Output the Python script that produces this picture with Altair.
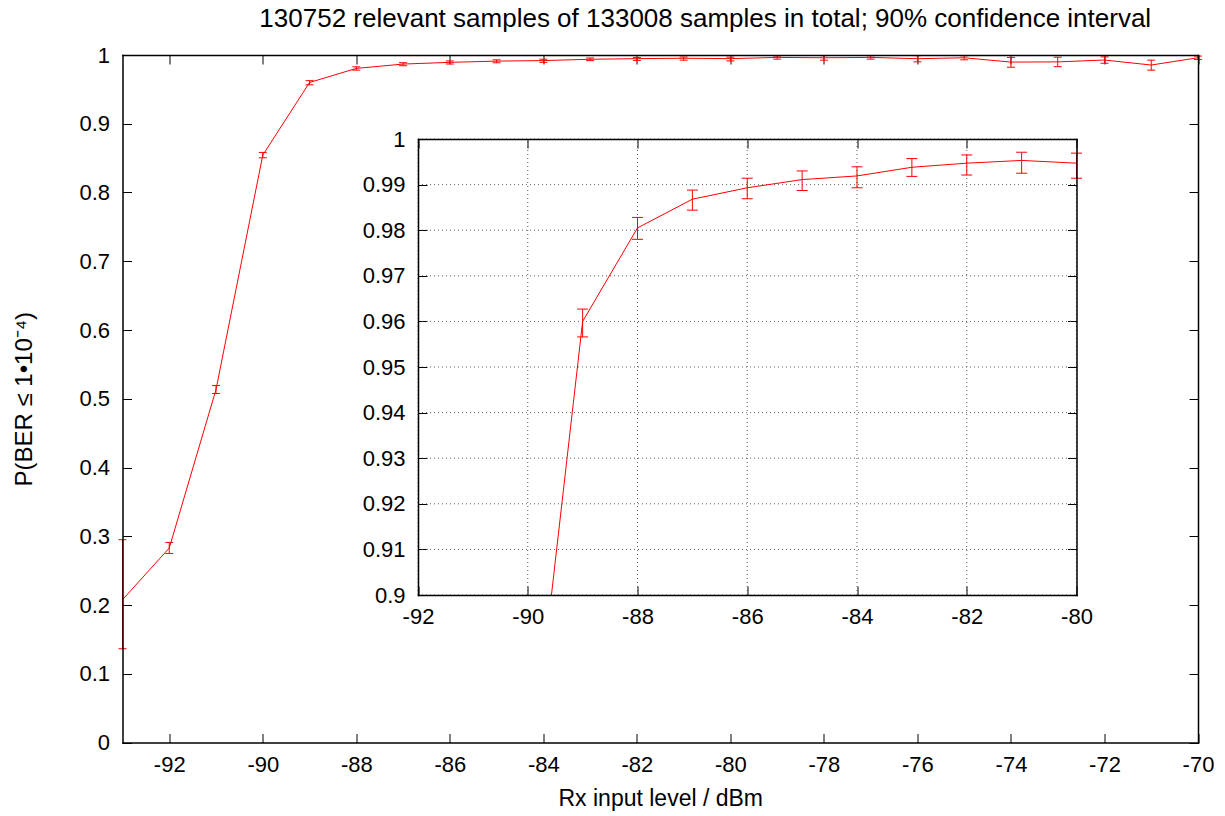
import altair as alt
import pandas as pd

# ---- data ----
rx_dbm = [-93, -92, -91, -90, -89, -88, -87, -86, -85, -84, -83, -82,
          -81, -80, -79, -78, -77, -76, -75, -74, -73, -72, -71, -70]
p_ok = [0.2077, 0.2829, 0.5134, 0.8544, 0.9600, 0.9805, 0.9868, 0.9893,
        0.9911, 0.9919, 0.9938, 0.9947, 0.9953, 0.9947, 0.9965, 0.9960,
        0.9965, 0.9946, 0.9960, 0.9897, 0.9900, 0.9927, 0.9854, 0.9960]
ci_lo = [0.1364, 0.2750, 0.5076, 0.8505, 0.9566, 0.9780, 0.9844, 0.9869,
         0.9887, 0.9893, 0.9918, 0.9921, 0.9925, 0.9914, 0.9940, 0.9925,
         0.9940, 0.9900, 0.9930, 0.9822, 0.9830, 0.9880, 0.9780, 0.9935]
ci_hi = [0.2950, 0.2910, 0.5192, 0.8583, 0.9627, 0.9828, 0.9888, 0.9914,
         0.9930, 0.9939, 0.9957, 0.9965, 0.9971, 0.9969, 0.9985, 0.9990,
         0.9988, 0.9990, 0.9988, 0.9965, 0.9968, 0.9972, 0.9925, 0.9985]

main_x_domain = [-93, -70]
main_y_domain = [0, 1]
inset_x_domain = [-92, -80]
inset_y_domain = [0.9, 1]
main_x_ticks = [-92, -90, -88, -86, -84, -82, -80, -78, -76, -74, -72, -70]
main_y_ticks = [0, 0.1, 0.2, 0.3, 0.4, 0.5, 0.6, 0.7, 0.8, 0.9, 1]
inset_x_ticks = [-92, -90, -88, -86, -84, -82, -80]
inset_y_ticks = [0.9, 0.91, 0.92, 0.93, 0.94, 0.95, 0.96, 0.97, 0.98, 0.99, 1]

title_text = "130752 relevant samples of 133008 samples in total; 90% confidence interval"
x_title = "Rx input level / dBm"
y_title = "P(BER \u2264 1\u202210\u207b\u2074)"

df = pd.DataFrame({"x": rx_dbm, "p": p_ok, "lo": ci_lo, "hi": ci_hi})
grid_v = pd.DataFrame({"v": inset_x_ticks, "a": inset_y_domain[0], "b": inset_y_domain[1]})
grid_h = pd.DataFrame({"v": inset_y_ticks, "a": inset_x_domain[0], "b": inset_x_domain[1]})

# ---- style / layout ----
RED = "#ff0000"
FONT = "Liberation Sans"
FS = 22
W, H = 1075.5, 687.5               # main plot area
IL, IR, IT, IB = 295.5, 954, 84, 540  # inset plot area inside main plot area
TICK = 9
LBL = "datum.value + ''"


def tick_axis(orient, values, offset, labels=True, title=None, title_pad=0, label_pad=8,
              title_size=23):
    kw = dict(orient=orient, values=values, offset=offset, tickSize=TICK,
              domain=False, grid=False, labels=labels, title=title,
              labelFlush=False, labelOverlap=False, labelExpr=LBL,
              labelPadding=label_pad, tickColor="black", tickWidth=1)
    if title:
        kw["titlePadding"] = title_pad
        kw["titleFontSize"] = title_size
    return alt.Axis(**kw)


def frame_axis(orient, offset):
    return alt.Axis(orient=orient, offset=offset, domain=True, domainColor="black",
                    domainWidth=1.5, domainCap="square", ticks=False, labels=False,
                    grid=False, title=None, zindex=1)


def errbars(data, xs, ys, cap, axes, filt):
    base = alt.Chart(data).transform_filter(filt)
    bars = base.mark_rule(color=RED, strokeWidth=1, opacity=1).encode(
        x=alt.X("x:Q", scale=xs, axis=axes[0]),
        y=alt.Y("lo:Q", scale=ys, axis=axes[1]), y2="hi:Q")
    cap_lo = base.mark_tick(color=RED, orient="horizontal", size=cap, thickness=1,
                            opacity=1).encode(
        x=alt.X("x:Q", scale=xs, axis=axes[2]),
        y=alt.Y("lo:Q", scale=ys, axis=axes[3]))
    cap_hi = base.mark_tick(color=RED, orient="horizontal", size=cap, thickness=1,
                            opacity=1).encode(
        x=alt.X("x:Q", scale=xs, axis=axes[4]),
        y=alt.Y("hi:Q", scale=ys, axis=axes[5]))
    return [bars, cap_lo, cap_hi]


# ---- main panel ----
xs_m = alt.Scale(domain=main_x_domain, nice=False, zero=False)
ys_m = alt.Scale(domain=main_y_domain, nice=False, zero=False)

m_line = alt.Chart(df).mark_line(color=RED, strokeWidth=1).encode(
    x=alt.X("x:Q", scale=xs_m,
            axis=tick_axis("bottom", main_x_ticks, -TICK, title=x_title,
                           title_pad=12, label_pad=11.5)),
    y=alt.Y("p:Q", scale=ys_m,
            axis=tick_axis("left", main_y_ticks, -TICK, title=y_title,
                           title_pad=42, label_pad=13, title_size=24)))
m_err = errbars(df, xs_m, ys_m, 8, [
    tick_axis("top", main_x_ticks, -TICK, labels=False),
    tick_axis("right", main_y_ticks, -TICK, labels=False),
    frame_axis("bottom", 0), frame_axis("left", 0),
    frame_axis("top", 0), frame_axis("right", 0)], "datum.x >= -93")

# ---- inset panel (same data, zoomed scales placed inside the main plot area) ----
xs_i = alt.Scale(domain=inset_x_domain, range=[IL, IR], nice=False, zero=False)
ys_i = alt.Scale(domain=inset_y_domain, range=[IB, IT], nice=False, zero=False)
GRID = dict(color="#444444", strokeWidth=1, strokeDash=[1, 3], opacity=0.85)

i_gv = alt.Chart(grid_v).mark_rule(**GRID).encode(
    x=alt.X("v:Q", scale=xs_i, axis=None),
    y=alt.Y("a:Q", scale=ys_i, axis=None), y2="b:Q")
i_gh = alt.Chart(grid_h).mark_rule(**GRID).encode(
    y=alt.Y("v:Q", scale=ys_i, axis=None),
    x=alt.X("a:Q", scale=xs_i, axis=None), x2="b:Q")

y0 = inset_y_domain[0]
i_line = alt.Chart(df).transform_filter(
    f"datum.x >= -89 && datum.x <= {inset_x_domain[1]}").mark_line(
    color=RED, strokeWidth=1).encode(
    x=alt.X("x:Q", scale=xs_i,
            axis=tick_axis("bottom", inset_x_ticks, (IB - TICK) - H, label_pad=11.5)),
    y=alt.Y("p:Q", scale=ys_i,
            axis=tick_axis("left", inset_y_ticks, -(IL + TICK), label_pad=13)))
# the segment that enters the inset from below, cut at the inset's lower edge
i_enter = alt.Chart(df).transform_window(
    px="lag(x)", pp="lag(p)", sort=[alt.SortField("x")]).transform_filter(
    f"datum.pp < {y0} && datum.p >= {y0}").transform_calculate(
    xc=f"datum.px + ({y0} - datum.pp) / (datum.p - datum.pp) * (datum.x - datum.px)",
    yc=f"{y0}").mark_rule(color=RED, strokeWidth=1).encode(
    x=alt.X("xc:Q", scale=xs_i, axis=None),
    y=alt.Y("yc:Q", scale=ys_i, axis=None),
    x2="x:Q", y2="p:Q")
i_err = errbars(df, xs_i, ys_i, 11, [
    tick_axis("top", inset_x_ticks, -(IT + TICK), labels=False),
    tick_axis("right", inset_y_ticks, (IR - TICK) - W, labels=False),
    frame_axis("bottom", IB - H), frame_axis("left", -IL),
    frame_axis("top", -IT), frame_axis("right", IR - W)],
    f"datum.x >= -89 && datum.x <= {inset_x_domain[1]}")

chart = alt.layer(m_line, *m_err, i_gv, i_gh, i_line, i_enter, *i_err).resolve_scale(
    x="independent", y="independent").resolve_axis(
    x="independent", y="independent").properties(
    width=W, height=H,
    title=alt.Title(title_text, font=FONT, fontSize=26, fontWeight="normal",
                    color="black", anchor="middle", frame="group",
                    baseline="alphabetic", offset=2, dx=45, dy=11),
    autosize=alt.AutoSizeParams(type="none"),
    padding={"left": 122.5, "top": 55, "right": 1225 - 122.5 - W,
             "bottom": 816 - 55 - H},
    background="white",
).configure_view(stroke=None).configure_axis(
    labelFont=FONT, labelFontSize=FS, titleFont=FONT,
    labelColor="black", titleColor="black", titleFontWeight="normal",
)

chart.save("out.html", embed_options={"renderer": "svg", "actions": False})
